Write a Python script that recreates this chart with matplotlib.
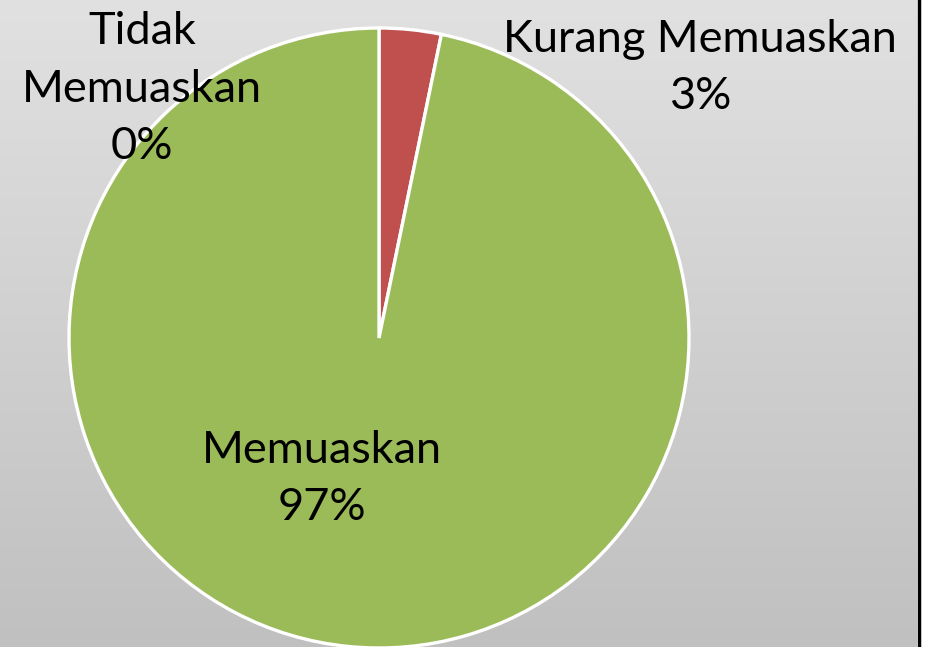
import numpy as np
import matplotlib
matplotlib.use("Agg")
import matplotlib.pyplot as plt

categories = ["Tidak\nMemuaskan", "Kurang Memuaskan", "Memuaskan"]
values = [0, 1, 30]
pct_labels = ["0%", "3%", "97%"]
colors = ["#4F81BD", "#C0504D", "#9BBB59"]

W, H = 925, 647
fig = plt.figure(figsize=(W / 100, H / 100), dpi=100)
fig.patch.set_facecolor("white")
ax = fig.add_axes([0, 0, 1, 1])
ax.set_xlim(0, W)
ax.set_ylim(0, H)
ax.axis("off")

# gradient background
grad = np.linspace(192, 225, 256)[:, None] / 255.0
img = np.repeat(grad[:, :, None], 3, axis=2)
ax.imshow(img, extent=[0, 917, 0, H], origin="lower", aspect="auto", zorder=0)
ax.plot([918.5, 918.5], [0, H], color="black", lw=2.5, zorder=1)

cx, cy, r = 379, H - 338, 310
ax.pie(values, colors=colors, startangle=90, counterclock=False,
       center=(cx, cy), radius=r, frame=True,
       wedgeprops=dict(edgecolor="white", linewidth=2.4, zorder=2))
ax.set_xlim(0, W)
ax.set_ylim(0, H)
ax.axis("off")
ax.set_aspect("auto")

fs = 32.5
font = "Lato"
label_pos = [(142, H - 89), (700, H - 68), (322, H - 479)]
for cat, pct, (x, y) in zip(categories, pct_labels, label_pos):
    ax.text(x, y, f"{cat}\n{pct}", ha="center", va="center", fontsize=fs,
            family=font, color="black", linespacing=1.5, zorder=5)

fig.savefig("out.png", dpi=100, facecolor=fig.get_facecolor())
